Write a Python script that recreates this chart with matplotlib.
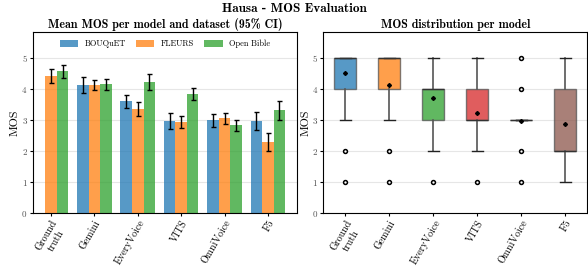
import numpy as np
import matplotlib
matplotlib.use("Agg")
import matplotlib.pyplot as plt

plt.rcParams['font.family'] = ['cmr10', 'DejaVu Serif']
plt.rcParams['axes.formatter.use_mathtext'] = True
plt.rcParams['axes.unicode_minus'] = False

models = ["Ground\ntruth", "Gemini", "EveryVoice", "VITS", "OmniVoice", "F5"]
datasets = ["BOUQuET", "FLEURS", "Open Bible"]

mean_bouquet = [np.nan, 4.12, 3.60, 2.96, 2.99, 2.96]
mean_fleurs = [4.41, 4.12, 3.34, 2.92, 3.05, 2.28]
mean_openbible = [4.57, 4.15, 4.22, 3.83, 2.82, 3.31]
ci_bouquet = [np.nan, 0.25, 0.21, 0.25, 0.21, 0.29]
ci_fleurs = [0.22, 0.16, 0.23, 0.20, 0.17, 0.28]
ci_openbible = [0.21, 0.18, 0.26, 0.19, 0.18, 0.30]

# box statistics per model
box_q1 = [4, 4, 3, 3, 3, 2]
box_med = [5, 5, 4, 3, 3, 2]
box_q3 = [5, 5, 4, 4, 3, 4]
box_whislo = [3, 3, 2, 2, 3, 1]
box_whishi = [5, 5, 5, 5, 3, 5]
box_mean = [4.50, 4.13, 3.70, 3.23, 2.95, 2.85]
box_fliers = [[2, 1], [2, 1], [1], [1], [5, 4, 2, 1], []]

bar_colors = ["tab:blue", "tab:orange", "tab:green"]
box_colors = ["tab:blue", "tab:orange", "tab:green", "tab:red", "tab:purple", "tab:brown"]

fig = plt.figure(figsize=(5.88, 2.68), dpi=100)
ax1 = fig.add_axes([0.0565, 0.206, 0.449, 0.673])
ax2 = fig.add_axes([0.550, 0.206, 0.449, 0.673])

x = np.arange(len(models))
w = 0.8 / 3
series = [(mean_bouquet, ci_bouquet), (mean_fleurs, ci_fleurs), (mean_openbible, ci_openbible)]
for i, (m, c) in enumerate(series):
    ax1.bar(x + (i - 1) * w, m, width=w, color=bar_colors[i], alpha=0.75,
            label=datasets[i], zorder=2)
    ax1.errorbar(x + (i - 1) * w, m, yerr=c, fmt='none', ecolor='black',
                 elinewidth=1.0, capsize=1.8, capthick=1.0, zorder=3)

title_font = ['cmb10', 'DejaVu Serif']

for ax in (ax1, ax2):
    ax.set_ylim(0, 5.82)
    ax.set_yticks([0, 1, 2, 3, 4, 5])
    ax.tick_params(axis='y', labelsize=6.5, labelcolor='#555555', length=2, pad=2)
    ax.tick_params(axis='x', length=2, pad=2)
    ax.set_ylabel("MOS", fontsize=8.5, labelpad=1)
    ax.grid(axis='y', color='#e6e6e6', linewidth=0.8, zorder=0)
    ax.set_axisbelow(True)

ax1.set_xticks(x)
ax1.set_xticklabels(models, rotation=60, ha='right', rotation_mode='anchor',
                    fontsize=7.2, multialignment='center')
ax1.set_title("Mean MOS per model and dataset (95% CI)", fontsize=8.6,
              family=title_font, pad=3)
ax1.legend(loc='upper center', ncol=3, frameon=False, fontsize=6,
           handlelength=2.2, handleheight=0.9, columnspacing=1.2,
           handletextpad=0.8, bbox_to_anchor=(0.5, 1.0))

stats = []
for i in range(len(models)):
    stats.append(dict(q1=box_q1[i], med=box_med[i], q3=box_q3[i],
                      whislo=box_whislo[i], whishi=box_whishi[i],
                      mean=box_mean[i], fliers=box_fliers[i]))
bp = ax2.bxp(stats, positions=np.arange(1, len(models) + 1), widths=0.5,
             patch_artist=True, showmeans=True,
             boxprops=dict(edgecolor='#555555', linewidth=1.0),
             whiskerprops=dict(color='#555555', linewidth=1.2),
             capprops=dict(color='#222222', linewidth=1.0),
             medianprops=dict(color='#333333', linewidth=1.0),
             meanprops=dict(marker='D', markerfacecolor='black',
                            markeredgecolor='black', markersize=2.0),
             flierprops=dict(marker='o', markerfacecolor='white',
                             markeredgecolor='black', markersize=2.8,
                             markeredgewidth=1.1))
for patch, col in zip(bp['boxes'], box_colors):
    patch.set_facecolor(col)
    patch.set_alpha(0.75)

ax2.set_xlim(0.5, len(models) + 0.5)
ax2.set_xticks(np.arange(1, len(models) + 1))
ax2.set_xticklabels(models, rotation=60, ha='right', rotation_mode='anchor',
                    fontsize=7.2, multialignment='center')
ax2.set_title("MOS distribution per model", fontsize=8.6,
              family=title_font, pad=3)

fig.suptitle("Hausa - MOS Evaluation", fontsize=9.5, y=0.99,
             family=title_font)

fig.savefig("out.png", dpi=100)
